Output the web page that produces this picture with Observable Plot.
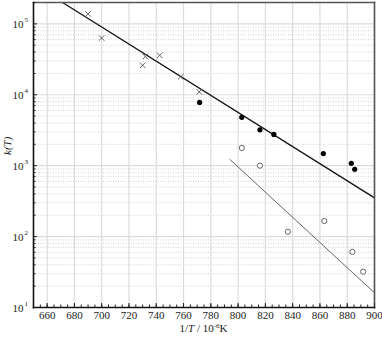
<!DOCTYPE html>
<html>
<head>
<meta charset="utf-8">
<script src="https://cdn.jsdelivr.net/npm/d3@7"></script>
<script src="https://cdn.jsdelivr.net/npm/@observablehq/plot@0.6"></script>
<style>
  html, body { margin: 0; padding: 0; background: white; }
  svg, svg text, svg tspan { font-family: 'Liberation Serif', 'DejaVu Serif', serif !important; }
</style>
</head>
<body>
<div id="chart"></div>
<script>
// Data
const crossX = [690, 700, 730, 732, 742.5, 758, 771.5];
const crossY = [1.38e5, 6.3e4, 2.6e4, 3.45e4, 3.6e4, 1.8e4, 1.1e4];

const filledX = [771.8, 802.7, 816, 826.2, 862.5, 883, 885.5];
const filledY = [7.8e3, 4.8e3, 3.2e3, 2.76e3, 1.48e3, 1.08e3, 890];

const openX = [802.7, 816, 836.5, 863.2, 883.8, 891.7];
const openY = [1.78e3, 1.0e3, 117, 166, 61, 32];

const fit1X = [671.3, 900];
const fit1Y = [2e5, 351];
const fit2X = [794.1, 900];
const fit2Y = [1220, 16.1];

const xTicks = [660, 680, 700, 720, 740, 760, 780, 800, 820, 840, 860, 880, 900];
const xMinor = d3.range(650, 901, 5);
const yDecades = [10, 100, 1000, 10000, 100000];
const yExponents = ["1", "2", "3", "4", "5"];
const yMinor = [];
for (const d of [10, 100, 1000, 10000, 100000]) for (let m = 2; m <= 9; m++) if (d * m <= 2e5) yMinor.push(d * m);

const toPts = (xs, ys) => xs.map((x, i) => ({x, y: ys[i]}));
const crosses = toPts(crossX, crossY);
const filled = toPts(filledX, filledY);
const open = toPts(openX, openY);
const fit1 = toPts(fit1X, fit1Y);
const fit2 = toPts(fit2X, fit2Y);
const yLab = yDecades.map((v, i) => ({v, e: yExponents[i]}));

const font = "'Liberation Serif', 'DejaVu Serif', serif";

const chart = Plot.plot({
  width: 382,
  height: 337,
  marginLeft: 33,
  marginRight: 8,
  marginTop: 2,
  marginBottom: 30,
  style: {fontFamily: font, fontSize: "11px", background: "white", color: "#222"},
  x: {domain: [650, 900], label: null},
  y: {type: "log", domain: [10, 2e5], label: null},
  marks: [
    Plot.gridY(yMinor, {stroke: "#c8c8c8", strokeOpacity: 1, strokeDasharray: "1,1.5", strokeWidth: 0.8}),
    Plot.gridY(yDecades, {stroke: "#dcdcdc", strokeOpacity: 1, strokeWidth: 1.2}),
    Plot.gridX(xTicks, {stroke: "#dcdcdc", strokeOpacity: 1, strokeWidth: 1.2}),
    Plot.line(fit2, {x: "x", y: "y", stroke: "#555", strokeWidth: 0.9}),
    Plot.line(fit1, {x: "x", y: "y", stroke: "#111", strokeWidth: 1.3}),
    Plot.dot(crosses, {x: "x", y: "y", symbol: "times", r: 2.6, stroke: "#555", strokeWidth: 0.9}),
    Plot.dot(filled, {x: "x", y: "y", r: 2.6, fill: "#000", stroke: "none"}),
    Plot.dot(open, {x: "x", y: "y", r: 2.6, fill: "white", stroke: "#555", strokeWidth: 0.9}),
    Plot.frame({anchor: "top", stroke: "#555", strokeWidth: 1.6}),
    Plot.frame({anchor: "right", stroke: "#555", strokeWidth: 1.6}),
    Plot.axisX({ticks: xMinor, tickSize: -2.5, text: null, stroke: "#222", label: null}),
    Plot.axisX({ticks: xTicks, tickSize: -4, text: null, stroke: "#222", label: null}),
    Plot.axisX({ticks: xTicks, tickSize: 0, tickPadding: 4, label: null, fontSize: 11, fill: "#222"}),
    Plot.axisY({ticks: yMinor, tickSize: -2.5, text: null, stroke: "#222", label: null}),
    Plot.axisY({ticks: yDecades, tickSize: -4, text: null, stroke: "#222", label: null}),
    Plot.frame({anchor: "left", stroke: "#111", strokeWidth: 1.6}),
    Plot.frame({anchor: "bottom", stroke: "#111", strokeWidth: 1.6}),
    Plot.text(yLab, {x: 650, y: "v", text: () => "10", textAnchor: "end", dx: -10, dy: 1, fontSize: 11, fill: "#222"}),
    Plot.text(yLab, {x: 650, y: "v", text: "e", textAnchor: "start", dx: -9, dy: -4, fontSize: 7, fill: "#222"}),
    Plot.text(["k(T)"], {frameAnchor: "left", dx: -26, rotate: -90, fontStyle: "italic", fontSize: 11, fill: "#222"})
  ]
});
chart.setAttribute("font-family", font);

const sx = chart.scale("x");
const sy = chart.scale("y");
const cx = (sx.apply(650) + sx.apply(900)) / 2;
const by = sy.apply(10) + 25;
const lab = d3.select(chart).append("text")
  .attr("x", cx).attr("y", by)
  .attr("text-anchor", "middle")
  .attr("font-family", font)
  .attr("font-size", 11)
  .attr("fill", "#222");
lab.append("tspan").text("1/");
lab.append("tspan").attr("font-style", "italic").text("T");
lab.append("tspan").text(" / 10");
lab.append("tspan").attr("font-size", 7).attr("dy", -4).text("-6");
lab.append("tspan").attr("dy", 4).text("K");

document.getElementById("chart").appendChild(chart);
</script>
</body>
</html>
